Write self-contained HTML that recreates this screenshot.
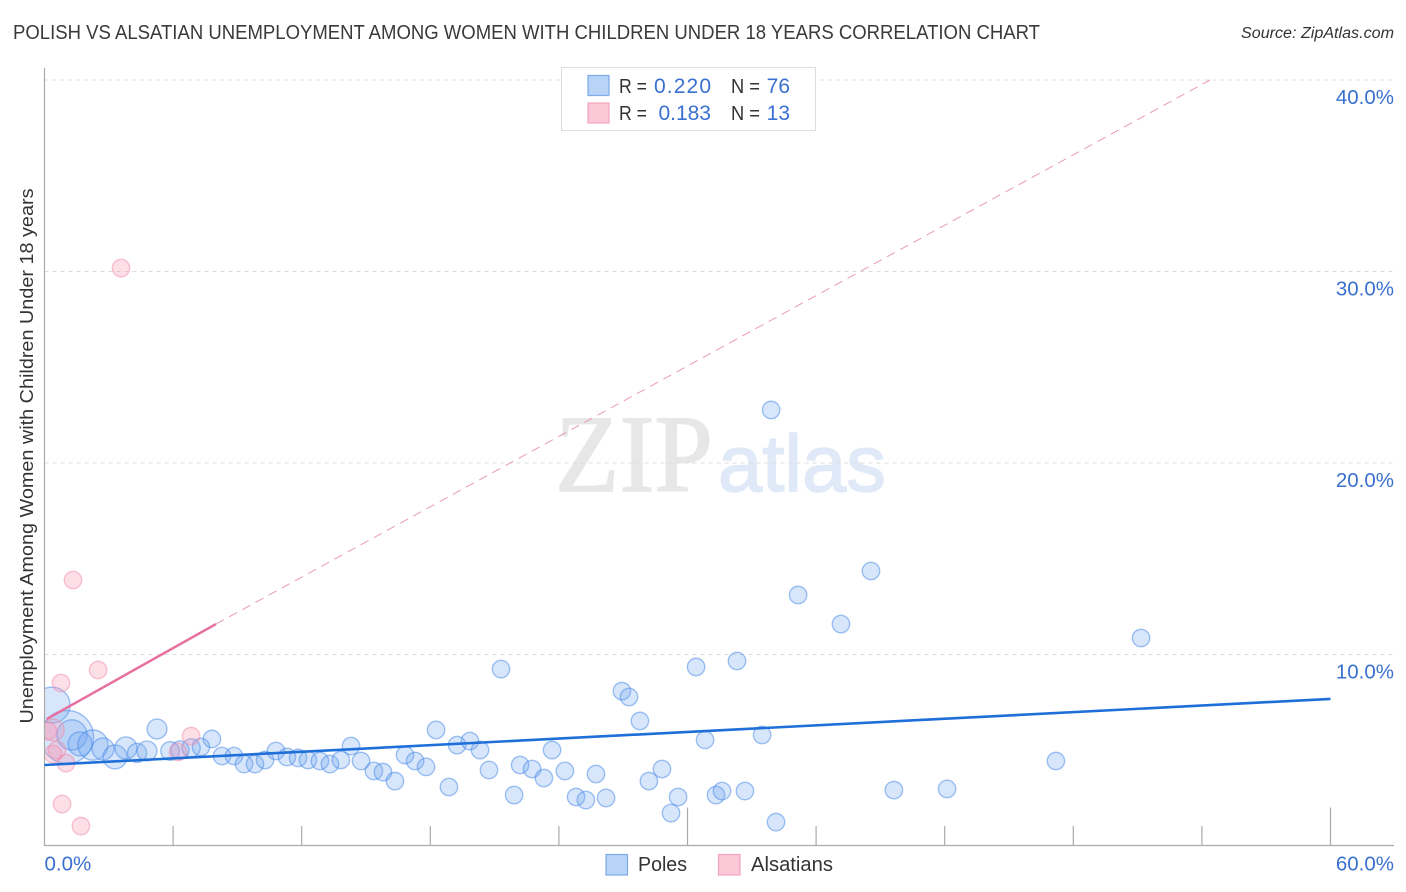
<!DOCTYPE html>
<html lang="en">
<head>
<meta charset="utf-8">
<title>Polish vs Alsatian Unemployment Correlation Chart</title>
<style>
  html, body { margin: 0; padding: 0; background: #fff; }
  svg { display: block; font-family: "Liberation Sans", sans-serif; }
</style>
</head>
<body>
<svg id="chart" width="1406" height="892" viewBox="0 0 1406 892" xmlns="http://www.w3.org/2000/svg">
  <defs>
    <clipPath id="plot-clip"><rect x="45" y="68" width="1349" height="778"/></clipPath>
  </defs>
  <rect x="0" y="0" width="1406" height="892" fill="#fff"/>
  <text x="13" y="39" font-size="20" fill="#3a3a3a" textLength="1027" lengthAdjust="spacingAndGlyphs">POLISH VS ALSATIAN UNEMPLOYMENT AMONG WOMEN WITH CHILDREN UNDER 18 YEARS CORRELATION CHART</text>
  <text x="1394" y="38" font-size="15.5" font-style="italic" fill="#333" text-anchor="end" textLength="153" lengthAdjust="spacingAndGlyphs">Source: ZipAtlas.com</text>
  <g>
    <text x="555" y="491" font-family="'Liberation Serif', serif" font-size="110" fill="#e7e7e7" stroke="#e7e7e7" stroke-width="1.5" textLength="158" lengthAdjust="spacingAndGlyphs">ZIP</text>
    <text x="718" y="491" font-size="80" fill="#dfe9f8" stroke="#dfe9f8" stroke-width="1.5" textLength="168" lengthAdjust="spacingAndGlyphs">atlas</text>
  </g>
  <g id="grid"></g>
  <g id="points" clip-path="url(#plot-clip)"></g>
  <g id="axes"></g>
  <g id="trends"></g>
  <g id="labels"></g>
  <text x="33" y="456" font-size="18.5" fill="#333" text-anchor="middle" transform="rotate(-90 33 456)" textLength="535" lengthAdjust="spacingAndGlyphs">Unemployment Among Women with Children Under 18 years</text>

  <g>
    <rect x="561.5" y="67.5" width="254" height="63" fill="#fff" stroke="#ddd" stroke-width="1"/>
    <rect x="588" y="75.5" width="21" height="20" fill="#b7d3f8" stroke="#7dabe6" stroke-width="1.2"/>
    <rect x="588" y="103" width="21" height="20" fill="#fcc8d7" stroke="#f2a5bc" stroke-width="1.2"/>
    <g font-size="20" fill="#333">
      <text x="619" y="93" textLength="28" lengthAdjust="spacingAndGlyphs">R =</text>
      <text x="731" y="93" textLength="29" lengthAdjust="spacingAndGlyphs">N =</text>
      <text x="619" y="120" textLength="28" lengthAdjust="spacingAndGlyphs">R =</text>
      <text x="731" y="120" textLength="29" lengthAdjust="spacingAndGlyphs">N =</text>
    </g>
    <g font-size="21" fill="#3a70cf">
      <text x="654" y="93" textLength="57" lengthAdjust="spacing">0.220</text>
      <text x="790" y="93" text-anchor="end">76</text>
      <text x="711" y="120" text-anchor="end">0.183</text>
      <text x="790" y="120" text-anchor="end">13</text>
    </g>
  </g>

  <g>
    <rect x="606" y="854.5" width="21.5" height="20.5" fill="#b7d3f8" stroke="#7dabe6" stroke-width="1.2"/>
    <text x="638" y="871" font-size="20" fill="#333" textLength="49" lengthAdjust="spacingAndGlyphs">Poles</text>
    <rect x="718.5" y="854.5" width="21.5" height="20.5" fill="#fcc8d7" stroke="#f2a5bc" stroke-width="1.2"/>
    <text x="751" y="871" font-size="20" fill="#333" textLength="82" lengthAdjust="spacingAndGlyphs">Alsatians</text>
  </g>
</svg>

<script>
const xTicks = [0, 6, 12, 18, 24, 30, 36, 42, 48, 54, 60];
const xMajorTicks = [30, 60];
const xTickLabels = ["0.0%", "60.0%"];
const xLabelValues = [0, 60];
const yTicks = [10, 20, 30, 40];
const yTickLabels = ["10.0%", "20.0%", "30.0%", "40.0%"];

const polesX = [0.35,1.05,1.28,1.66,2.26,2.73,3.29,3.80,4.32,4.78,5.25,5.86,6.32,6.84,7.30,7.81,8.28,8.84,9.31,9.82,10.29,10.80,11.31,11.83,12.29,12.85,13.32,13.83,14.30,14.77,15.37,15.79,16.35,16.82,17.29,17.80,18.27,18.87,19.25,19.85,20.32,20.74,21.30,21.91,22.19,22.75,23.30,23.68,24.28,24.80,25.26,25.73,26.20,26.94,27.27,27.78,28.20,28.81,29.23,29.56,30.40,30.82,31.33,31.61,32.31,32.68,33.48,34.13,39.63,33.90,35.16,37.16,38.56,42.11,47.19,51.16];
const polesY = [7.36,5.69,5.80,5.33,5.27,5.07,4.65,5.12,4.86,4.96,6.11,4.96,5.01,5.12,5.17,5.59,4.70,4.70,4.28,4.28,4.49,4.96,4.65,4.60,4.49,4.44,4.28,4.49,5.22,4.44,3.92,3.86,3.39,4.75,4.44,4.13,6.06,3.08,5.27,5.48,5.01,3.97,9.24,2.66,4.23,4.02,3.55,5.01,3.92,2.56,2.40,3.76,2.51,8.09,7.78,6.53,3.39,4.02,1.72,2.56,9.35,5.54,2.66,2.87,9.66,2.87,5.80,1.25,2.92,22.77,13.11,11.59,14.36,2.98,4.44,10.86];
const polesWeight = [4.3,9.3,3,1.9,3,1.6,1.9,1.6,1.2,1.3,1.3,1.15,1.1,1.1,1,1,1,1,1,1,1,1,1,1,1,1,1,1,1,1,1,1,1,1,1,1,1,1,1,1,1,1,1,1,1,1,1,1,1,1,1,1,1,1,1,1,1,1,1,1,1,1,1,1,1,1,1,1,1,1,1,1,1,1,1,1];

const alsatiansX = [3.57,1.33,2.50,0.77,0.40,0.16,0.40,0.58,1.00,0.82,1.70,6.23,6.84];
const alsatiansY = [30.18,13.89,9.19,8.51,6.06,6.00,4.80,5.01,4.33,2.19,1.04,4.91,5.74];
const alsatiansWeight = [1,1,1,1,1.6,1,1,1,1,1,1,1,1];

const polesTrendX = [0, 60];
const polesTrendY = [4.23, 7.68];
const alsatiansTrendX = [0.1, 8.0];
const alsatiansTrendY = [6.63, 11.59];
const alsatiansProjectionX = [8.0, 54.38];
const alsatiansProjectionY = [11.59, 40.0];

const NS = "http://www.w3.org/2000/svg";
const xAt = v => 44.5 + v * (1286 / 60);
const yAt = v => 846 - v * 19.15;
const radiusFor = w => 8.7 * Math.sqrt(w);

function make(tag, attrs, parent) {
  const el = document.createElementNS(NS, tag);
  for (const k in attrs) el.setAttribute(k, attrs[k]);
  parent.appendChild(el);
  return el;
}

const gridG = document.getElementById("grid");
yTicks.forEach(t => {
  const line = make("line", { x1: 44.5, x2: 1394, y1: yAt(t), y2: yAt(t), stroke: "#dcdcdc", "stroke-width": 1, "stroke-dasharray": "4 4" }, gridG);
  
  
});

const axesG = document.getElementById("axes");
const yAxis = make("line", { x1: 44.5, x2: 44.5, y1: 68, y2: 846, stroke: "#aaa", "stroke-width": 1.2 }, axesG);


const xAxis = make("line", { x1: 44, x2: 1394, y1: 845.5, y2: 845.5, stroke: "#aaa", "stroke-width": 1.2 }, axesG);


xTicks.slice(1).forEach(t => {
  const top = xMajorTicks.includes(t) ? 807.5 : 826;
  const tick = make("line", { x1: xAt(t), x2: xAt(t), y1: top, y2: 845.5, stroke: "#aaa", "stroke-width": 1.2 }, axesG);
  
  
});

const pointsG = document.getElementById("points");
polesX.forEach((x, i) => {
  const c = make("circle", { cx: xAt(x), cy: yAt(polesY[i]), r: radiusFor(polesWeight[i]), fill: "rgba(110,165,240,0.28)", stroke: "rgba(70,135,230,0.5)", "stroke-width": 1.4 }, pointsG);
  
  
});
alsatiansX.forEach((x, i) => {
  const c = make("circle", { cx: xAt(x), cy: yAt(alsatiansY[i]), r: radiusFor(alsatiansWeight[i]), fill: "rgba(248,150,180,0.3)", stroke: "rgba(240,140,170,0.5)", "stroke-width": 1.4 }, pointsG);
  
  
});

const trendsG = document.getElementById("trends");
const projection = make("line", { x1: xAt(alsatiansProjectionX[0]), y1: yAt(alsatiansProjectionY[0]), x2: xAt(alsatiansProjectionX[1]), y2: yAt(alsatiansProjectionY[1]), stroke: "#eb9ab8", "stroke-width": 1, "stroke-dasharray": "9 6" }, trendsG);


const alsTrend = make("line", { x1: xAt(alsatiansTrendX[0]), y1: yAt(alsatiansTrendY[0]), x2: xAt(alsatiansTrendX[1]), y2: yAt(alsatiansTrendY[1]), stroke: "#e8709f", "stroke-width": 2.5 }, trendsG);


const polesTrend = make("line", { x1: xAt(polesTrendX[0]), y1: yAt(polesTrendY[0]), x2: xAt(polesTrendX[1]), y2: yAt(polesTrendY[1]), stroke: "#1f6fd8", "stroke-width": 2.6 }, trendsG);



const labelsG = document.getElementById("labels");
yTicks.forEach((t, i) => {
  const label = make("text", { x: 1394, y: yAt(t) + 24, "font-size": 20.5, fill: "#3a70cf", "text-anchor": "end" }, labelsG);
  label.textContent = yTickLabels[i];
  
  
});
xLabelValues.forEach((t, i) => {
  const anchor = i === 0 ? "start" : "end";
  const px = i === 0 ? xAt(t) : 1394;
  const label = make("text", { x: px, y: 870.5, "font-size": 20.5, fill: "#3a70cf", "text-anchor": anchor }, labelsG);
  label.textContent = xTickLabels[i];
  
  
});
</script>
</body>
</html>
